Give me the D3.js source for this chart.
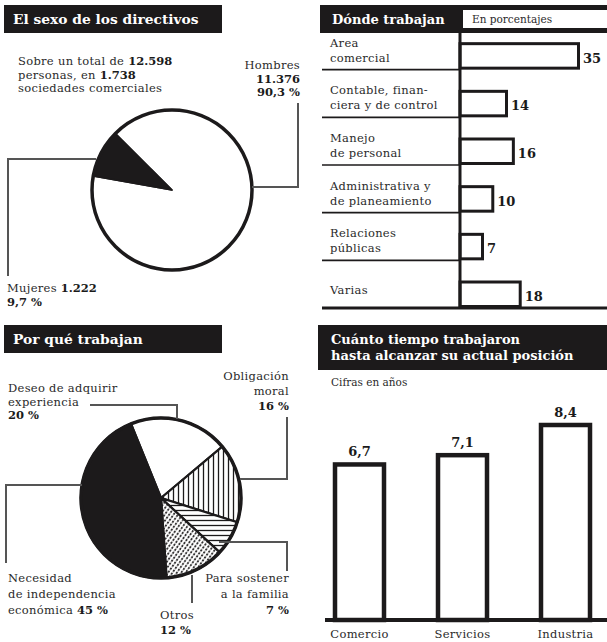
<!DOCTYPE html>
<html>
<head>
<meta charset="utf-8">
<script src="https://cdn.jsdelivr.net/npm/d3@7"></script>
<style>
  html, body { margin: 0; padding: 0; background: #fff; }
  svg { display: block; }
  text { font-family: "DejaVu Serif", "Liberation Serif", serif; fill: #2a2a2a; }
  .title { fill: #fff; font-weight: bold; font-size: 13px; }
  .lbl { font-size: 11.5px; letter-spacing: 0.3px; }
  .num { font-weight: bold; fill: #1a1a1a; letter-spacing: 0; }
  .lead { fill: none; stroke: #555; stroke-width: 2; }
</style>
</head>
<body>
<svg id="chart" width="607" height="642"></svg>
<script>
// ---- data ----
const sexoLabels = ["Hombres", "Mujeres"];
const sexoCounts = [11376, 1222];
const sexoPct = [90.3, 9.7];
const sexoTotal = 12598;
const sociedades = 1738;

const areaLabels = [
  ["Area", "comercial"],
  ["Contable, finan-", "ciera y de control"],
  ["Manejo", "de personal"],
  ["Administrativa y", "de planeamiento"],
  ["Relaciones", "públicas"],
  ["Varias"]
];
const areaValues = [35, 14, 16, 10, 7, 18];

const motivoLabels = ["Deseo de adquirir experiencia", "Obligación moral",
  "Para sostener a la familia", "Otros", "Necesidad de independencia económica"];
const motivoValues = [20, 16, 7, 12, 45];

const sectorLabels = ["Comercio", "Servicios", "Industria"];
const sectorYears = [6.7, 7.1, 8.4];

// ---- helpers ----
const svg = d3.select("#chart");
const fmt = v => String(v).replace(".", ",");
const thousands = v => d3.format(",")(v).replace(/,/g, ".");
const INK = "#1c1a1b";

function titleBar(x, y, w, h, lines, tx, baselines, size) {
  svg.append("rect").attr("x", x).attr("y", y).attr("width", w).attr("height", h).attr("fill", INK);
  lines.forEach((t, i) => {
    const el = svg.append("text").attr("class", "title").attr("x", tx).attr("y", baselines[i]).text(t);
    if (size) el.style("font-size", size + "px");
  });
}

// multi-line text; each line is an array of [string, bold?] runs
function textBlock(x, y0, dy, lines, anchor) {
  const t = svg.append("text").attr("class", "lbl").attr("text-anchor", anchor || "start");
  lines.forEach((runs, i) => {
    runs.forEach((r, j) => {
      const s = t.append("tspan").text(r[0]);
      if (j === 0) s.attr("x", x).attr("y", y0 + i * dy);
      if (r[1]) s.attr("class", "num");
    });
  });
  return t;
}

function lead(points) {
  svg.append("path").attr("class", "lead").attr("d", d3.line()(points));
}

// ---- patterns ----
const defs = svg.append("defs");
const pv = defs.append("pattern").attr("id", "vstripe").attr("patternUnits", "userSpaceOnUse")
  .attr("width", 5).attr("height", 5);
pv.append("rect").attr("width", 5).attr("height", 5).attr("fill", "#fff");
pv.append("line").attr("x1", 2.5).attr("x2", 2.5).attr("y1", 0).attr("y2", 5).attr("stroke", INK).attr("stroke-width", 1.3);
const ph = defs.append("pattern").attr("id", "hstripe").attr("patternUnits", "userSpaceOnUse")
  .attr("width", 5).attr("height", 5);
ph.append("rect").attr("width", 5).attr("height", 5).attr("fill", "#fff");
ph.append("line").attr("y1", 2.5).attr("y2", 2.5).attr("x1", 0).attr("x2", 5).attr("stroke", INK).attr("stroke-width", 1.3);
const pd = defs.append("pattern").attr("id", "dots").attr("patternUnits", "userSpaceOnUse")
  .attr("width", 3.6).attr("height", 3.6).attr("patternTransform", "rotate(35)");
pd.append("rect").attr("width", 3.6).attr("height", 3.6).attr("fill", "#fff");
pd.append("ellipse").attr("cx", 1.8).attr("cy", 1.8).attr("rx", 0.9).attr("ry", 1.4).attr("fill", INK);

// ================= 1. El sexo de los directivos =================
titleBar(4, 5, 218, 28, ["El sexo de los directivos"], 13, [24], 13.8);

textBlock(18, 65, 13.5, [
  [["Sobre un total de "], [thousands(sexoTotal), true]],
  [["personas, en "], [thousands(sociedades), true]],
  [["sociedades comerciales"]]
]);

const pie1 = { cx: 172, cy: 190, r: 80 };
const pieSexo = d3.pie().sort(null)
  .startAngle(-Math.PI / 4).endAngle(-Math.PI / 4 + 2 * Math.PI)(sexoCounts);
const arc1 = d3.arc().innerRadius(0).outerRadius(pie1.r);
const g1 = svg.append("g").attr("transform", `translate(${pie1.cx},${pie1.cy})`);
g1.selectAll("path").data(pieSexo).join("path")
  .attr("d", arc1)
  .attr("fill", (d, i) => i === 1 ? INK : "#fff")
  .attr("stroke", INK).attr("stroke-width", 1.5).attr("stroke-linejoin", "round");
g1.append("circle").attr("r", pie1.r).attr("fill", "none").attr("stroke", INK).attr("stroke-width", 3.5);

// Hombres label
textBlock(300, 69, 13.5, [
  [[sexoLabels[0]]],
  [[thousands(sexoCounts[0]), true]],
  [[fmt(sexoPct[0]) + " %", true]]
], "end");
lead([[298, 103], [298, 187], [pie1.cx + pie1.r, 187]]);

// Mujeres label
lead([[pie1.cx - pie1.r + 4, 159], [8, 159], [8, 276]]);
textBlock(7, 292, 13.5, [
  [[sexoLabels[1] + " "], [thousands(sexoCounts[1]), true]],
  [[fmt(sexoPct[1]) + " %", true]]
]);

// ================= 2. Dónde trabajan =================
titleBar(320, 5, 287, 28, ["Dónde trabajan"], 332, [24]);
svg.append("rect").attr("x", 463).attr("y", 10).attr("width", 150).attr("height", 18).attr("fill", "#fff");
svg.append("text").attr("x", 472).attr("y", 23).attr("font-size", 10.5).text("En porcentajes");

const axisX = 460;
const rowY = d3.scaleBand().domain(d3.range(areaValues.length)).range([22, 308]);
const barX = d3.scaleLinear().domain([0, 35]).range([axisX, 580]);
const barH = 26;

areaValues.forEach((v, i) => {
  const bottom = rowY(i) + rowY.bandwidth();
  // row separator
  if (i < areaValues.length - 1) {
    svg.append("line").attr("x1", 322).attr("x2", axisX).attr("y1", bottom).attr("y2", bottom)
      .attr("stroke", INK).attr("stroke-width", 1.6);
  }
  svg.append("rect")
    .attr("x", axisX).attr("y", bottom - barH)
    .attr("width", barX(v) - axisX - 1.5).attr("height", barH - 1.5)
    .attr("fill", "#fff").attr("stroke", INK).attr("stroke-width", 3);
  svg.append("text").attr("class", "num").attr("x", barX(v) + 3).attr("y", bottom - barH / 2 + 6)
    .attr("font-size", 13).text(v);
  const lines = areaLabels[i];
  const last = lines.length === 1 ? bottom - 14 : bottom - 8;
  lines.forEach((s, k) => {
    svg.append("text").attr("class", "lbl").attr("x", 330)
      .attr("y", last - (lines.length - 1 - k) * 15).text(s);
  });
});
svg.append("line").attr("x1", axisX).attr("x2", axisX).attr("y1", 32).attr("y2", 309)
  .attr("stroke", INK).attr("stroke-width", 3);
svg.append("line").attr("x1", 322).attr("x2", 607).attr("y1", 308).attr("y2", 308)
  .attr("stroke", INK).attr("stroke-width", 3);

// ================= 3. Por qué trabajan =================
titleBar(4, 325, 218, 28, ["Por qué trabajan"], 13, [344], 13.8);

const pie2 = { cx: 161, cy: 498, r: 80 };
const a0 = -22 * Math.PI / 180;
const pieMotivo = d3.pie().sort(null).startAngle(a0).endAngle(a0 + 2 * Math.PI)(motivoValues);
const fills2 = ["#fff", "url(#vstripe)", "url(#hstripe)", "url(#dots)", INK];
const arc2 = d3.arc().innerRadius(0).outerRadius(pie2.r);
const g2 = svg.append("g").attr("transform", `translate(${pie2.cx},${pie2.cy})`);
g2.selectAll("path").data(pieMotivo).join("path")
  .attr("d", arc2)
  .attr("fill", (d, i) => fills2[i])
  .attr("stroke", INK).attr("stroke-width", 2.2).attr("stroke-linejoin", "round");
g2.append("circle").attr("r", pie2.r).attr("fill", "none").attr("stroke", INK).attr("stroke-width", 3.5);

// Deseo de adquirir experiencia
textBlock(8, 392, 13.5, [
  [["Deseo de adquirir"]],
  [["experiencia"]],
  [[motivoValues[0] + " %", true]]
]);
lead([[90, 405], [177, 405], [177, 419]]);

// Obligación moral
textBlock(289, 380, 15, [
  [["Obligación"]],
  [["moral"]],
  [[motivoValues[1] + " %", true]]
], "end");
lead([[287, 417], [287, 479], [pie2.cx + pie2.r - 1, 479]]);

// Para sostener a la familia
lead([[219, 542], [287, 542], [287, 571]]);
textBlock(289, 582, 16, [
  [["Para sostener"]],
  [["a la familia"]],
  [[motivoValues[2] + " %", true]]
], "end");

// Otros
lead([[192, 575], [192, 603]]);
textBlock(160, 619, 15, [
  [["Otros"]],
  [[motivoValues[3] + " %", true]]
]);

// Necesidad de independencia económica
lead([[pie2.cx - pie2.r + 1, 485], [6, 485], [6, 563]]);
textBlock(8, 582, 16, [
  [["Necesidad"]],
  [["de independencia"]],
  [["económica "], [motivoValues[4] + " %", true]]
]);

// ================= 4. Cuánto tiempo trabajaron =================
titleBar(318, 325, 289, 45, ["Cuánto tiempo trabajaron", "hasta alcanzar su actual posición"], 331, [344, 360]);
svg.append("text").attr("x", 331).attr("y", 386).attr("font-size", 10.5).text("Cifras en años");

const xs = d3.scalePoint().domain(sectorLabels).range([308, 617]).padding(0.5);
const ys = d3.scaleLinear().domain([0, 8.4]).range([620, 425]);
const bw = 49;
sectorLabels.forEach((c, i) => {
  const v = sectorYears[i];
  svg.append("rect").attr("x", xs(c) - bw / 2).attr("y", ys(v))
    .attr("width", bw).attr("height", ys(0) - ys(v))
    .attr("fill", "#fff").attr("stroke", INK).attr("stroke-width", 4.5);
  svg.append("text").attr("class", "num").attr("x", xs(c)).attr("y", ys(v) - 8)
    .attr("text-anchor", "middle").attr("font-size", 13).text(fmt(v));
  svg.append("text").attr("class", "lbl").attr("x", xs(c)).attr("y", 638)
    .attr("text-anchor", "middle").text(c);
});
svg.append("line").attr("x1", 325).attr("x2", 607).attr("y1", ys(0)).attr("y2", ys(0))
  .attr("stroke", INK).attr("stroke-width", 4);
</script>
</body>
</html>
